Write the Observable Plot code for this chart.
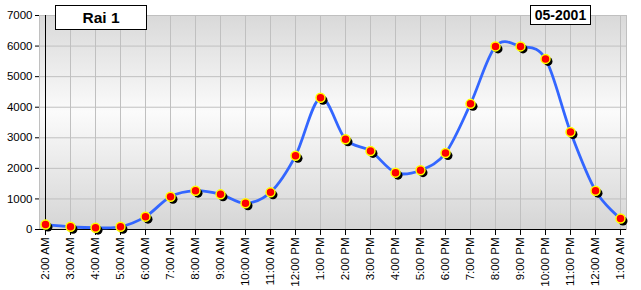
<!DOCTYPE html>
<html>
<head>
<meta charset="utf-8">
<script src="https://cdn.jsdelivr.net/npm/d3@7"></script>
<script src="https://cdn.jsdelivr.net/npm/@observablehq/plot@0.6"></script>
<style>
  html, body { margin: 0; padding: 0; background: white; }
  #wrap { position: relative; width: 641px; height: 290px; overflow: hidden; }
  .box { position: absolute; background: white; border: 1px solid black; box-sizing: border-box;
         font-family: "Liberation Sans", Arial, sans-serif; font-weight: bold; color: black;
         display: flex; align-items: center; justify-content: center; }
  #title { left: 55px; top: 5px; width: 92px; height: 25px; font-size: 15.5px; }
  #date { left: 530px; top: 5px; width: 61px; height: 20px; font-size: 14px; }
</style>
</head>
<body>
<div id="wrap">
  <div id="chart"></div>
  <div id="title" class="box">Rai 1</div>
  <div id="date" class="box">05-2001</div>
</div>
<script>
const times = ["2:00 AM","3:00 AM","4:00 AM","5:00 AM","6:00 AM","7:00 AM","8:00 AM","9:00 AM","10:00 AM","11:00 AM",
  "12:00 PM","1:00 PM","2:00 PM","3:00 PM","4:00 PM","5:00 PM","6:00 PM","7:00 PM","8:00 PM","9:00 PM","10:00 PM","11:00 PM",
  "12:00 AM","1:00 AM"];
const values = [160, 90, 60, 90, 420, 1070, 1270, 1150, 860, 1215, 2410, 4310, 2950, 2570, 1860, 1940, 2500, 4110, 5990, 5990, 5580, 3190, 1270, 360];
const yTicks = [0, 1000, 2000, 3000, 4000, 5000, 6000, 7000];

const data = times.map((t, i) => ({time: t, value: values[i]}));

const svg = Plot.plot({
  width: 641,
  height: 290,
  marginLeft: 39,
  marginRight: 15,
  marginTop: 15,
  marginBottom: 61,
  style: {fontFamily: "'Liberation Sans', Arial, sans-serif", fontSize: "11px", color: "black", background: "white", overflow: "visible"},
  x: {type: "point", domain: times, padding: 0, label: null},
  y: {domain: [0, 7000], label: null},
  marks: [
    Plot.frame({fill: "url(#bg)", stroke: "#c0c0c0"}),
    Plot.gridX(times, {stroke: "#c0c0c0", strokeOpacity: 1}),
    Plot.gridY(yTicks, {stroke: "#c0c0c0", strokeOpacity: 1}),
    Plot.axisY(yTicks, {tickSize: 4, tickPadding: 3, label: null, fontSize: 11.5, tickFormat: d => String(d)}),
    Plot.axisX(times, {tickSize: 6, tickPadding: 2, tickRotate: -90, label: null, fontSize: 11.5}),
    Plot.ruleY([0], {stroke: "black"}),
    Plot.ruleX([times[0]], {stroke: "black"}),
    Plot.line(data, {x: "time", y: "value", curve: "cardinal", tension: 0, stroke: "#3366ff", strokeWidth: 2.8}),
    Plot.dot(data, {x: "time", y: "value", r: 4.5, fill: "black", dx: 2.5, dy: 2.5}),
    Plot.dot(data, {x: "time", y: "value", r: 4.5, fill: "#ff0000", stroke: "#ffff00", strokeWidth: 1.5})
  ]
});

const defs = d3.select(svg).insert("defs", ":first-child");
const g = defs.append("linearGradient").attr("id", "bg").attr("x1", 0).attr("y1", 0).attr("x2", 0).attr("y2", 1);
g.append("stop").attr("offset", "0%").attr("stop-color", "#d9d9d9");
g.append("stop").attr("offset", "45%").attr("stop-color", "#fbfbfb");
g.append("stop").attr("offset", "100%").attr("stop-color", "#d5d5d5");

document.getElementById("chart").appendChild(svg);
</script>
</body>
</html>
